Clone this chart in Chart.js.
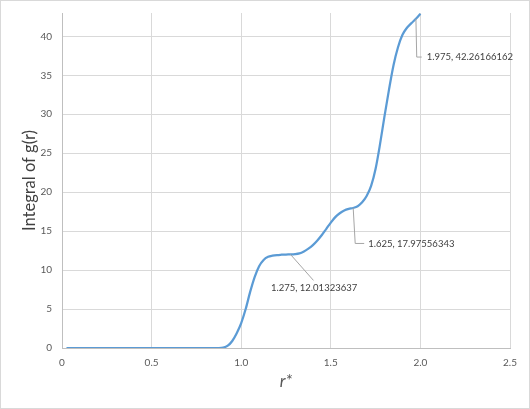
<!DOCTYPE html>
<html>
<head>
<meta charset="utf-8">
<script src="https://cdn.jsdelivr.net/npm/chart.js@4.4.1/dist/chart.umd.min.js"></script>
<style>
  html, body { margin: 0; padding: 0; background: #ffffff; }
  #wrap { width: 530px; height: 409px; position: relative; }
</style>
</head>
<body>
<div id="wrap"><canvas id="c" width="530" height="409"></canvas></div>
<script>
// ---- data ----
const rValues = [
  0.025, 0.05, 0.075, 0.1, 0.125, 0.15, 0.175, 0.2, 0.225, 0.25,
  0.275, 0.3, 0.325, 0.35, 0.375, 0.4, 0.425, 0.45, 0.475, 0.5,
  0.525, 0.55, 0.575, 0.6, 0.625, 0.65, 0.675, 0.7, 0.725, 0.75,
  0.775, 0.8, 0.825, 0.85, 0.875, 0.9, 0.925, 0.95, 0.975, 1.0,
  1.025, 1.05, 1.075, 1.1, 1.125, 1.15, 1.175, 1.2, 1.225, 1.25,
  1.275, 1.3, 1.325, 1.35, 1.375, 1.4, 1.425, 1.45, 1.475, 1.5,
  1.525, 1.55, 1.575, 1.6, 1.625, 1.65, 1.675, 1.7, 1.725, 1.75,
  1.775, 1.8, 1.825, 1.85, 1.875, 1.9, 1.925, 1.95, 1.975, 2.0
];
const integralValues = [
  0, 0, 0, 0, 0, 0, 0, 0, 0, 0,
  0, 0, 0, 0, 0, 0, 0, 0, 0, 0,
  0, 0, 0, 0, 0, 0, 0, 0, 0, 0,
  0, 0, 0, 0, 0, 0.05, 0.3, 0.9, 1.9, 3.2,
  5.0, 7.2, 9.1, 10.5, 11.3, 11.7, 11.85, 11.93, 11.97, 12.0,
  12.01323637, 12.05, 12.15, 12.4, 12.75, 13.2, 13.8, 14.5, 15.3, 16.1,
  16.8, 17.3, 17.65, 17.85, 17.97556343, 18.2, 18.7, 19.5, 20.8, 23.0,
  26.2, 29.8, 33.2, 36.3, 38.6, 40.2, 41.1, 41.7, 42.26166162, 42.9
];
const labelledR = [1.275, 1.625, 1.975];
const xTicks = [0, 0.5, 1, 1.5, 2, 2.5];
const yTicks = [0, 5, 10, 15, 20, 25, 30, 35, 40];
const xTitle = 'r*';
const yTitle = 'Integral of g(r)';

const points = rValues.map((r, i) => ({ x: r, y: integralValues[i] }));

// leader line / label offsets (styling, relative to the labelled point)
const labelStyles = [
  { path: [[23, 26]], text: [-19.5, 34] },
  { path: [[2, 35.5], [11, 35.5]], text: [15, 35.5] },
  { path: [[0.8, 38.3], [5.8, 38.3]], text: [10.8, 38.3] }
];

const bgPlugin = {
  id: 'bg',
  beforeDraw(chart) {
    const ctx = chart.ctx;
    ctx.save();
    ctx.fillStyle = '#ffffff';
    ctx.fillRect(0, 0, chart.width, chart.height);
    ctx.strokeStyle = '#d9d9d9';
    ctx.lineWidth = 1;
    ctx.strokeRect(0.5, 0.5, chart.width - 1, chart.height - 1);
    ctx.restore();
  }
};

const labelPlugin = {
  id: 'dataLabels',
  afterDatasetsDraw(chart) {
    const ctx = chart.ctx;
    const xs = chart.scales.x, ys = chart.scales.y;
    ctx.save();
    labelledR.forEach((r, k) => {
      const idx = rValues.findIndex(v => Math.abs(v - r) < 1e-9);
      if (idx < 0) return;
      const px = xs.getPixelForValue(rValues[idx]);
      const py = ys.getPixelForValue(integralValues[idx]);
      const st = labelStyles[k];
      ctx.strokeStyle = '#a6a6a6';
      ctx.lineWidth = 1;
      ctx.beginPath();
      ctx.moveTo(px, py);
      st.path.forEach(p => ctx.lineTo(px + p[0], py + p[1]));
      ctx.stroke();
      ctx.fillStyle = '#404040';
      ctx.font = '9.5px Lato';
      ctx.textAlign = 'left';
      ctx.textBaseline = 'middle';
      ctx.fillText(rValues[idx] + ', ' + integralValues[idx], px + st.text[0], py + st.text[1]);
    });
    ctx.restore();
  }
};

new Chart(document.getElementById('c'), {
  type: 'scatter',
  data: {
    datasets: [{
      data: points,
      showLine: true,
      borderColor: '#5B9BD5',
      borderWidth: 2.25,
      pointRadius: 0,
      pointHoverRadius: 0,
      cubicInterpolationMode: 'monotone',
      fill: false
    }]
  },
  options: {
    responsive: false,
    animation: false,
    events: [],
    layout: { padding: { left: 0, right: 20, top: 13, bottom: 0 } },
    plugins: { legend: { display: false }, tooltip: { enabled: false } },
    scales: {
      x: {
        type: 'linear',
        min: 0, max: 2.5,
        afterFit(s) { s.height = 61; s.paddingLeft = 0; s.paddingRight = 0; },
        afterBuildTicks(s) { s.ticks = xTicks.map(v => ({ value: v })); },
        grid: { color: '#d9d9d9', lineWidth: 1, drawTicks: false },
        border: { color: '#bfbfbf', width: 1 },
        ticks: { color: '#595959', font: { family: 'Lato', size: 10 }, padding: 9, maxRotation: 0 },
        title: {
          display: true, text: xTitle, color: '#595959',
          font: { family: 'Lato', size: 17, style: 'italic' },
          padding: { top: 0, bottom: 17 }
        }
      },
      y: {
        type: 'linear',
        min: 0, max: 43,
        afterFit(s) { s.width = 62; s.paddingTop = 0; s.paddingBottom = 0; },
        afterBuildTicks(s) { s.ticks = yTicks.map(v => ({ value: v })); },
        grid: { color: '#d9d9d9', lineWidth: 1, drawTicks: false },
        border: { color: '#bfbfbf', width: 1 },
        ticks: { color: '#595959', font: { family: 'Lato', size: 10 }, padding: 10 },
        title: {
          display: true, text: yTitle, color: '#404040',
          font: { family: 'Lato', size: 16.5 },
          padding: { top: 20, bottom: 0 }
        }
      }
    }
  },
  plugins: [bgPlugin, labelPlugin]
});
</script>
</body>
</html>
